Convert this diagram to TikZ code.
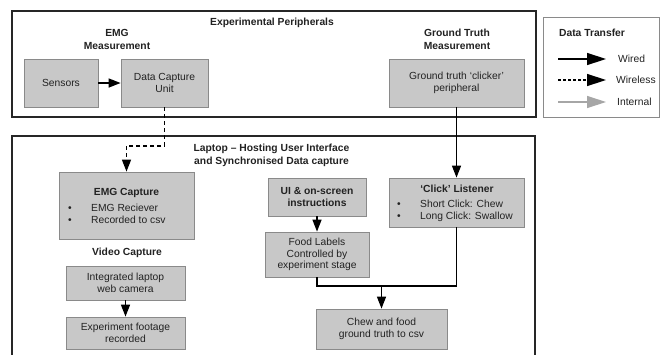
\documentclass[tikz,border=0pt]{standalone}
\usepackage{fontspec}
\setmainfont{Liberation Sans}
\usetikzlibrary{arrows.meta}
\definecolor{boxfill}{HTML}{C8C8C8}
\definecolor{boxline}{HTML}{8A8A8A}
\definecolor{txt}{HTML}{222222}
\definecolor{intgray}{HTML}{A6A6A6}
\begin{document}
\begin{tikzpicture}[x=1pt,y=-1pt,
  font=\fontsize{10.3}{11.8}\selectfont, text=txt,
  box/.style={draw=boxline, fill=boxfill, line width=0.8pt, inner sep=2pt, align=center},
  outerframe/.style={draw=black!85, line width=1.6pt},
  conn/.style={line width=1.4pt, -{Triangle[length=12pt,width=9pt]}},
  wless/.style={conn, dash pattern=on 4pt off 3pt},
  ttl/.style={font=\fontsize{10.3}{12.8}\selectfont\bfseries, align=center},
  bul/.style={anchor=base, inner sep=0pt},
  bultext/.style={anchor=base west, inner sep=0pt},
  legarrow/.style={line width=1.4pt, -{Triangle[length=19pt,width=12pt]}}
]
\useasboundingbox (0,0) rectangle (660,354);
\fill[white] (0,0) rectangle (660,354);

% outer frames
\draw[outerframe] (12,11) rectangle (536,117);
\draw[outerframe] (12,360) -- (12,136) -- (535,136) -- (535,360);

% titles
\node[ttl] (tper) at (272,23) {Experimental Peripherals};
\node[ttl] (temg) at (117,39.5) {EMG\\Measurement};
\node[ttl] (tgt) at (457,39.5) {Ground Truth\\Measurement};
\node[ttl] (tlap) at (271.5,155) {Laptop -- Hosting User Interface\\and Synchronised Data capture};
\node[ttl] (tvid) at (127,253) {Video Capture};

% peripheral boxes
\node[box, minimum width=74pt, minimum height=48pt] (sens) at (61,83) {Sensors};
\node[box, minimum width=87pt, minimum height=48pt] (dcu) at (164.5,83) {Data Capture\\Unit};
\node[box, minimum width=135pt, minimum height=48pt] (gt) at (456.5,83) {Ground truth ‘clicker’\\peripheral};

% laptop boxes
\node[box, minimum width=135pt, minimum height=67pt] (emg) at (126.5,205.5) {};
\node[ttl] (emgt) at (126.5,193) {EMG Capture};
\node[bul] (eb1) at (70,211.7) {•};
\node[bultext] (el1) at (91,211.7) {EMG Reciever};
\node[bul] (eb2) at (70,223.7) {•};
\node[bultext] (el2) at (91,223.7) {Recorded to csv};

\node[box, minimum width=119pt, minimum height=34pt] (integ) at (125.5,283) {Integrated laptop\\web camera};
\node[box, minimum width=119pt, minimum height=32pt] (foot) at (125.5,333) {Experiment footage\\recorded};

\node[box, minimum width=98pt, minimum height=38pt, font=\fontsize{10.3}{11.8}\selectfont\bfseries] (ui) at (317,197) {UI \& on-screen\\instructions};
\node[box, minimum width=104pt, minimum height=45pt] (food) at (317,254.5) {Food Labels\\Controlled by\\experiment stage};

\node[box, minimum width=135pt, minimum height=49pt] (click) at (456.5,202.5) {};
\node[ttl] (clickt) at (457,189) {‘Click’ Listener};
\node[bul] (cb1) at (399,207.7) {•};
\node[bultext] (cl1) at (420,207.7) {Short Click: Chew};
\node[bul] (cb2) at (399,219.7) {•};
\node[bultext] (cl2) at (420,219.7) {Long Click: Swallow};

\node[box, minimum width=131pt, minimum height=40pt] (chew) at (381.5,329) {Chew and food\\ground truth to csv};

% connectors
\draw[conn] (sens) -- (dcu);
\coordinate (wbend) at (126.5,146);
\draw[wless] (dcu.south) |- (wbend) -- (emg.north);
\draw[conn] (gt) -- (click);
\draw[conn] (integ) -- (foot);
\draw[conn] (ui) -- (food);
\coordinate (jn) at (381.5,286);
\draw[line width=1.4pt] (food.south) |- (jn) -| (click.south);
\draw[conn] (jn) -- (chew.north);

% legend
\node[draw=boxline, line width=0.8pt, minimum width=116pt, minimum height=100pt, inner sep=0pt] (leg) at (601,67) {};
\node[ttl] (legt) at (592,33) {Data Transfer};
\coordinate (la1) at (558,59);
\coordinate (la2) at (606,59);
\coordinate (lb1) at (558,80);
\coordinate (lb2) at (606,80);
\coordinate (lc1) at (558,102);
\coordinate (lc2) at (606,102);
\draw[legarrow] (la1) -- (la2);
\draw[legarrow, dash pattern=on 3pt off 2pt] (lb1) -- (lb2);
\draw[legarrow, draw=intgray, fill=intgray, line width=1.2pt] (lc1) -- (lc2);
\node[anchor=west, inner sep=0pt] (lwt) at (618,59) {Wired};
\node[anchor=west, inner sep=0pt] (lbt) at (616,80) {Wireless};
\node[anchor=west, inner sep=0pt] (lct) at (617,102) {Internal};
\end{tikzpicture}
\end{document}
